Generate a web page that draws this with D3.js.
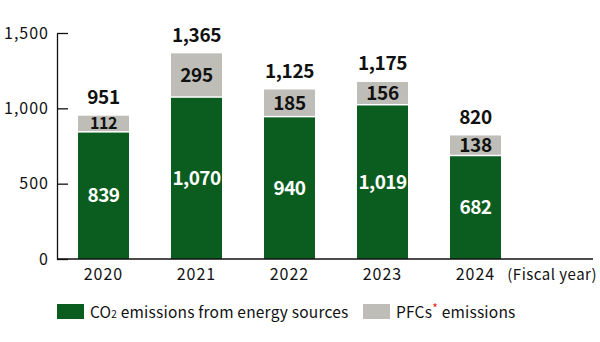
<!DOCTYPE html>
<meta charset='utf-8'>
<head>
  <title>Emissions</title>
</head>
<style>
body { margin: 0; background: #fff; }
svg text { font-family: "Noto Sans CJK JP", "Noto Sans", sans-serif; }
.axis text { font-size: 16px; letter-spacing: 1px; fill: #111; }
.axis path, .axis line { stroke: #111; stroke-width: 1.3px; }
.year { font-size: 16px; letter-spacing: 1px; fill: #111; }
.total { font-size: 19px; font-weight: bold; letter-spacing: -0.4px; fill: #111; }
.pfc-label { font-weight: bold; letter-spacing: -0.4px; fill: #111; }
.co2-label { font-size: 19px; font-weight: bold; letter-spacing: -0.6px; fill: #fff; }
.legend text { font-size: 15.5px; letter-spacing: 0.2px; fill: #111; }
</style>
<body>
<svg width='600' height='342'></svg>
<script src='https://cdn.jsdelivr.net/npm/d3@7'></script>
<script>
var years = ['2020', '2021', '2022', '2023', '2024'];
var co2 = [839, 1070, 940, 1019, 682];
var pfcs = [112, 295, 185, 156, 138];
var totals = [951, 1365, 1125, 1175, 820];
var yTicks = [0, 500, 1000, 1500];

var green = '#0b5c1f', grey = '#bebdb7';

var svg = d3.select('svg');
var x = d3.scaleBand().domain(years).range([59.4, 519.6]).paddingInner(0.4516).paddingOuter(0.2);
var y = d3.scaleLinear().domain([0, 1500]).range([259, 33]);
var fmt = d3.format(',');

// y axis, ticks point inward
svg.append('g')
  .attr('class', 'axis')
  .attr('transform', 'translate(57,0)')
  .call(d3.axisLeft(y).tickValues(yTicks).tickFormat(fmt).tickSize(-11).tickSizeOuter(0))
  .call(function(g) { g.selectAll('text').attr('x', -8); });

var bars = svg.append('g').selectAll('g')
  .data(years)
  .enter().append('g');

bars.append('rect')
  .attr('x', function(d) { return x(d); })
  .attr('width', x.bandwidth())
  .attr('y', function(d, i) { return y(co2[i]); })
  .attr('height', function(d, i) { return y(0) - y(co2[i]); })
  .attr('fill', green);

bars.append('rect')
  .attr('x', function(d) { return x(d); })
  .attr('width', x.bandwidth())
  .attr('y', function(d, i) { return y(totals[i]); })
  .attr('height', function(d, i) { return y(co2[i]) - y(totals[i]) - 1.5; })
  .attr('fill', grey);

bars.append('text')
  .attr('class', 'co2-label')
  .attr('x', function(d) { return x(d) + x.bandwidth() / 2; })
  .attr('y', function(d, i) { return (y(co2[i]) + y(0)) / 2; })
  .attr('dy', '0.35em')
  .attr('text-anchor', 'middle')
  .text(function(d, i) { return fmt(co2[i]); });

// grey labels shrink when the segment is short
bars.append('text')
  .attr('class', 'pfc-label')
  .attr('x', function(d) { return x(d) + x.bandwidth() / 2; })
  .attr('y', function(d, i) { return (y(co2[i]) + y(totals[i]) - 1.5) / 2; })
  .attr('dy', '0.36em')
  .attr('text-anchor', 'middle')
  .style('font-size', function(d, i) {
    var h = y(co2[i]) - y(totals[i]);
    return (h < 20 ? 16 : 19) + 'px';
  })
  .text(function(d, i) { return fmt(pfcs[i]); });

bars.append('text')
  .attr('class', 'total')
  .attr('x', function(d) { return x(d) + x.bandwidth() / 2; })
  .attr('y', function(d, i) { return y(totals[i]) - 11.5; })
  .attr('text-anchor', 'middle')
  .text(function(d, i) { return fmt(totals[i]); });

// baseline
svg.append('line')
  .attr('x1', 57).attr('x2', 593)
  .attr('y1', y(0)).attr('y2', y(0))
  .attr('stroke', '#111').attr('stroke-width', 1.3);

bars.append('text')
  .attr('class', 'year')
  .attr('x', function(d) { return x(d) + x.bandwidth() / 2; })
  .attr('y', 280)
  .attr('text-anchor', 'middle')
  .text(function(d) { return d; });

svg.append('text')
  .attr('class', 'year')
  .attr('x', 597).attr('y', 280)
  .attr('text-anchor', 'end')
  .style('font-size', '15px')
  .style('letter-spacing', '0.5px')
  .text('(Fiscal year)');

// legend
var legend = svg.append('g').attr('class', 'legend');
legend.append('rect').attr('x', 57).attr('y', 304).attr('width', 27).attr('height', 15).attr('fill', green);
var t1 = legend.append('text').attr('x', 90).attr('y', 318);
t1.append('tspan').text('CO');
t1.append('tspan').attr('font-size', '10px').text('2');
t1.append('tspan').text(' emissions from energy sources');

legend.append('rect').attr('x', 363).attr('y', 304).attr('width', 27).attr('height', 15).attr('fill', grey);
var t2 = legend.append('text').attr('x', 396).attr('y', 318);
t2.append('tspan').text('PFCs');
t2.append('tspan').attr('fill', '#e0261b').attr('font-size', '12px').attr('dy', -5).text('*');
t2.append('tspan').attr('dy', 5).text(' emissions');
</script>
</body>
</html>
